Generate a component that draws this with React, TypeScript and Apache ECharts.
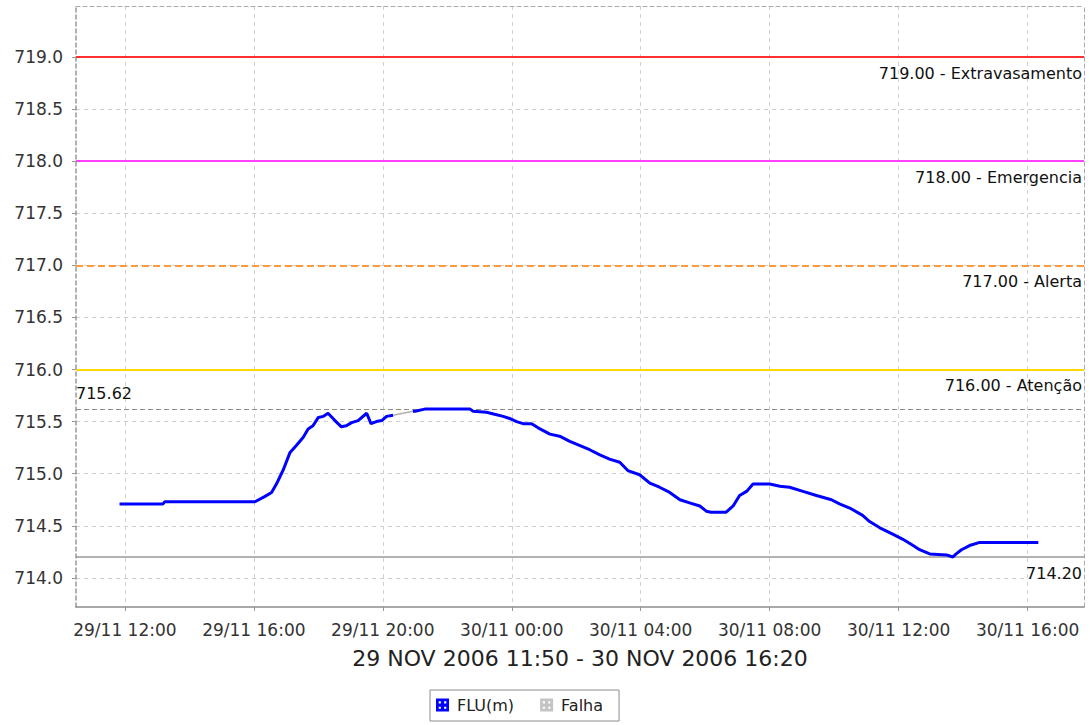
import React, { useEffect, useRef } from "react";
import * as echarts from "echarts";

// ---- data ----
const fluTimes = [
  "2006-11-29 11:50", "2006-11-29 13:11", "2006-11-29 13:14", "2006-11-29 16:02",
  "2006-11-29 16:20", "2006-11-29 16:33", "2006-11-29 16:42", "2006-11-29 16:55",
  "2006-11-29 17:07", "2006-11-29 17:19", "2006-11-29 17:32", "2006-11-29 17:41",
  "2006-11-29 17:50", "2006-11-29 18:00", "2006-11-29 18:09", "2006-11-29 18:18",
  "2006-11-29 18:31", "2006-11-29 18:43", "2006-11-29 18:52", "2006-11-29 19:02",
  "2006-11-29 19:14", "2006-11-29 19:30", "2006-11-29 19:38", "2006-11-29 19:48",
  "2006-11-29 19:58", "2006-11-29 20:07", "2006-11-29 20:19",
  null,
  "2006-11-29 20:56", "2006-11-29 21:00", "2006-11-29 21:18", "2006-11-29 21:21",
  "2006-11-29 22:42", "2006-11-29 22:48", "2006-11-29 23:13", "2006-11-29 23:28",
  "2006-11-29 23:44", "2006-11-29 23:56", "2006-11-30 00:09", "2006-11-30 00:21",
  "2006-11-30 00:37", "2006-11-30 00:49", "2006-11-30 01:11", "2006-11-30 01:29",
  "2006-11-30 01:48", "2006-11-30 02:07", "2006-11-30 02:25", "2006-11-30 02:44",
  "2006-11-30 03:02", "2006-11-30 03:21", "2006-11-30 03:36", "2006-11-30 03:58",
  "2006-11-30 04:17", "2006-11-30 04:35", "2006-11-30 04:54", "2006-11-30 05:13",
  "2006-11-30 05:31", "2006-11-30 05:50", "2006-11-30 06:02", "2006-11-30 06:11",
  "2006-11-30 06:39", "2006-11-30 06:52", "2006-11-30 07:04", "2006-11-30 07:17",
  "2006-11-30 07:29", "2006-11-30 08:00", "2006-11-30 08:19", "2006-11-30 08:37",
  "2006-11-30 09:02", "2006-11-30 09:27", "2006-11-30 09:55", "2006-11-30 10:10",
  "2006-11-30 10:29", "2006-11-30 10:53", "2006-11-30 11:06", "2006-11-30 11:25",
  "2006-11-30 11:49", "2006-11-30 12:08", "2006-11-30 12:27", "2006-11-30 12:39",
  "2006-11-30 12:58", "2006-11-30 13:29", "2006-11-30 13:41", "2006-11-30 13:47",
  "2006-11-30 13:57", "2006-11-30 14:12", "2006-11-30 14:31", "2006-11-30 16:20",
];
const fluValues = [
  714.71, 714.71, 714.73, 714.73,
  714.78, 714.82, 714.9, 715.04,
  715.2, 715.27, 715.35, 715.43,
  715.46, 715.54, 715.55, 715.58,
  715.51, 715.45, 715.46, 715.49,
  715.51, 715.58, 715.48, 715.5,
  715.51, 715.55, 715.56,
  null,
  715.6, 715.6, 715.62, 715.62,
  715.62, 715.6, 715.59, 715.57,
  715.55, 715.53, 715.5, 715.48,
  715.48, 715.44, 715.38, 715.36,
  715.31, 715.27, 715.23, 715.18,
  715.14, 715.11, 715.03, 714.99,
  714.91, 714.87, 714.82, 714.75,
  714.72, 714.69, 714.64, 714.63,
  714.63, 714.69, 714.79, 714.83,
  714.9, 714.9, 714.88, 714.87,
  714.83, 714.79, 714.75, 714.71,
  714.67, 714.6, 714.54, 714.48,
  714.42, 714.37, 714.31, 714.27,
  714.23, 714.22, 714.2, 714.23,
  714.27, 714.31, 714.34, 714.34,
];
const falhaTimes = ["2006-11-29 20:19", "2006-11-29 20:56"];
const falhaValues = [715.56, 715.6];

const xTickTimes = [
  "2006-11-29 12:00", "2006-11-29 16:00", "2006-11-29 20:00", "2006-11-30 00:00",
  "2006-11-30 04:00", "2006-11-30 08:00", "2006-11-30 12:00", "2006-11-30 16:00",
];
const xAxisRange = ["2006-11-29 10:29", "2006-11-30 17:45"];
const yTickValues = [714, 714.5, 715, 715.5, 716, 716.5, 717, 717.5, 718, 718.5, 719];
const yAxisRange = [713.72, 719.49];

const alarmLevels = [719, 718, 717, 716];
const alarmNames = ["Extravasamento", "Emergencia", "Alerta", "Atenção"];
const alarmColors = ["#ff3030", "#ff40ff", "#ff9a3c", "#ffd700"];
const alarmDashed = [false, false, true, false];
const maxLevel = 715.62;
const minLevel = 714.2;
const rangeTitle = "29 NOV 2006 11:50 - 30 NOV 2006 16:20";
const seriesNames = ["FLU(m)", "Falha"];

// ---- helpers ----
function parseT(s: string): number {
  const [d, t] = s.split(" ");
  const [Y, M, D] = d.split("-").map(Number);
  const [h, m] = t.split(":").map(Number);
  return new Date(Y, M - 1, D, h, m).getTime();
}
const pad = (n: number) => (n < 10 ? "0" + n : "" + n);
function fmtTick(v: number): string {
  const d = new Date(v);
  return `${pad(d.getDate())}/${pad(d.getMonth() + 1)} ${pad(d.getHours())}:${pad(d.getMinutes())}`;
}

const FONT = "DejaVu Sans";
const ICON =
  "path://M0,0H12V12H0Z M2.5,2.5V4.5H4.5V2.5Z M7.5,2.5V4.5H9.5V2.5Z M2.5,7.5V9.5H4.5V7.5Z M7.5,7.5V9.5H9.5V7.5Z";

export default function App() {
  const ref = useRef<HTMLDivElement>(null);
  useEffect(() => {
    document.body.style.margin = "0";
    if (!ref.current) return;
    const chart = echarts.init(ref.current, null, { renderer: "svg" });

    const fluData = fluTimes.map((t, i) => (t === null ? [null, null] : [parseT(t), fluValues[i]]));
    const falhaData = falhaTimes.map((t, i) => [parseT(t), falhaValues[i]]);

    const labelStyle = { color: "#111", fontFamily: FONT, fontSize: 16 };
    const markData: any[] = alarmLevels.map((lv, i) => ({
      yAxis: lv,
      lineStyle: { color: alarmColors[i], width: 2, type: alarmDashed[i] ? [7, 4] : "solid" },
      label: {
        ...labelStyle,
        formatter: `${lv.toFixed(2)} - ${alarmNames[i]}`,
        position: "insideEndBottom",
        distance: [2, 8],
      },
    }));
    markData.push({
      yAxis: maxLevel,
      lineStyle: { color: "#8a8a8a", width: 1, type: [5, 3] },
      label: { ...labelStyle, formatter: maxLevel.toFixed(2), position: "insideStartTop", distance: [0, 8] },
    });
    markData.push({
      yAxis: minLevel,
      lineStyle: { color: "#999", width: 1.5, type: "solid" },
      label: { ...labelStyle, formatter: minLevel.toFixed(2), position: "insideEndBottom", distance: [2, 8] },
    });

    const xTicks = xTickTimes.map(parseT);
    const xMin = parseT(xAxisRange[0]);
    const xMax = parseT(xAxisRange[1]);

    chart.setOption({
      animation: false,
      backgroundColor: "#fff",
      grid: { left: 76, right: 6, top: 6, bottom: 118, containLabel: false },
      legend: {
        left: 430,
        top: 690,
        orient: "horizontal",
        data: [
          { name: seriesNames[0], icon: ICON, itemStyle: { color: "#0000ff" } },
          { name: seriesNames[1], icon: ICON, itemStyle: { color: "#c4c4c4" } },
        ],
        itemWidth: 13,
        itemHeight: 13,
        itemGap: 26,
        padding: [7, 16, 8, 6],
        borderColor: "#8c8c8c",
        borderWidth: 1,
        textStyle: { fontFamily: FONT, fontSize: 16, color: "#222", padding: [0, 0, 0, 3] },
        selectedMode: false,
      },
      xAxis: [
        {
          type: "value",
          min: xMin,
          max: xMax,
          name: rangeTitle,
          nameLocation: "middle",
          nameGap: 40,
          nameTextStyle: { fontFamily: FONT, fontSize: 22, color: "#222" },
          axisLine: { show: true, lineStyle: { color: "#8c8c8c", width: 1.5 } },
          axisTick: { show: true, length: 4, lineStyle: { color: "#999" }, customValues: xTicks },
          axisLabel: {
            customValues: xTicks,
            formatter: (v: number) => fmtTick(v),
            fontFamily: FONT,
            fontSize: 17,
            color: "#333",
            margin: 14,
            hideOverlap: false,
          },
          splitLine: { show: true, lineStyle: { color: "#d0d0d0", type: [4, 4], width: 1 } },
        },
        {
          type: "value",
          position: "top",
          min: xMin,
          max: xMax,
          axisLine: { show: true, lineStyle: { color: "#aaa", type: [4, 3] } },
          axisTick: { show: false },
          axisLabel: { show: false },
          splitLine: { show: false },
        },
      ],
      yAxis: [
        {
          type: "value",
          min: yAxisRange[0],
          max: yAxisRange[1],
          axisLine: { show: true, lineStyle: { color: "#999", type: [4, 3], width: 1.5 } },
          axisTick: { show: true, length: 4, lineStyle: { color: "#999" }, customValues: yTickValues },
          axisLabel: {
            customValues: yTickValues,
            formatter: (v: number) => v.toFixed(1),
            fontFamily: FONT,
            fontSize: 17,
            color: "#333",
            margin: 13,
          },
          splitLine: { show: true, lineStyle: { color: "#d0d0d0", type: [4, 4], width: 1 } },
        },
        {
          type: "value",
          position: "right",
          min: yAxisRange[0],
          max: yAxisRange[1],
          axisLine: { show: true, lineStyle: { color: "#aaa", type: [4, 3] } },
          axisTick: { show: false },
          axisLabel: { show: false },
          splitLine: { show: false },
        },
      ],
      series: [
        {
          name: seriesNames[0],
          type: "line",
          data: fluData,
          connectNulls: false,
          showSymbol: false,
          lineStyle: { color: "#0000ff", width: 3 },
          itemStyle: { color: "#0000ff" },
          z: 5,
          markLine: {
            silent: true,
            symbol: ["none", "none"],
            data: markData,
            z: 3,
          },
        },
        {
          name: seriesNames[1],
          type: "line",
          data: falhaData,
          showSymbol: false,
          lineStyle: { color: "#b0b0b0", width: 1.5 },
          itemStyle: { color: "#c4c4c4" },
          z: 4,
        },
      ],
    });
    return () => chart.dispose();
  }, []);
  return <div ref={ref} style={{ width: 1090, height: 725 }} />;
}
